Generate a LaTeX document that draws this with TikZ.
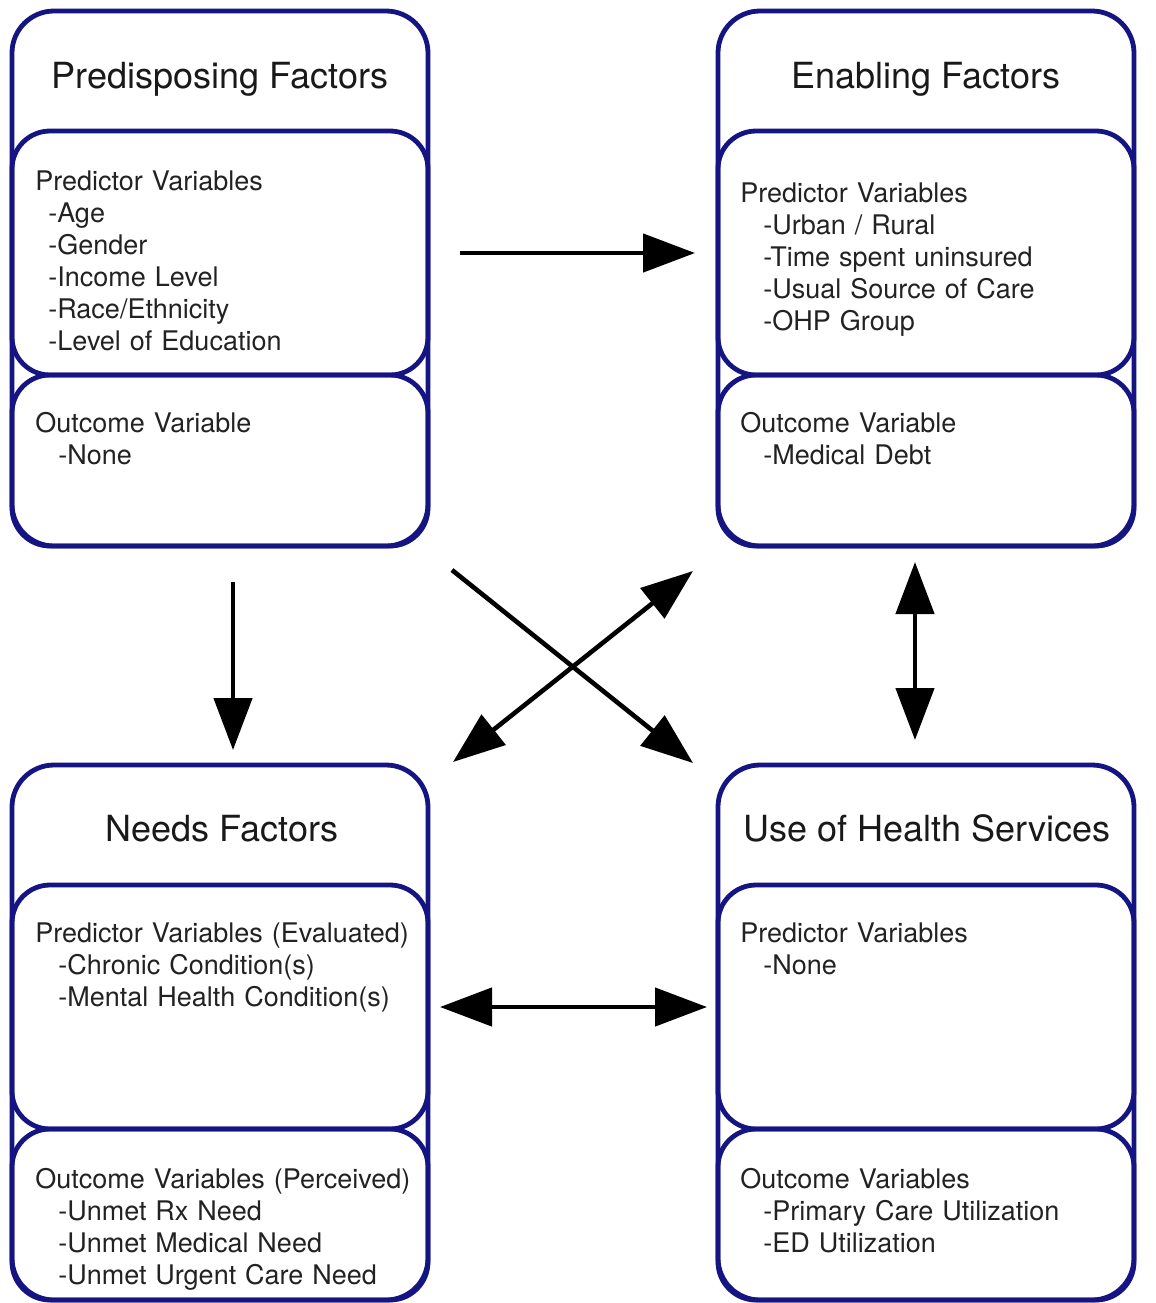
\documentclass[tikz,border=0pt]{standalone}
\usepackage{fontspec}
\setmainfont{TeX Gyre Heros}
\usepackage{tikz}
\usetikzlibrary{arrows.meta}
\definecolor{boxblue}{RGB}{20,20,130}
\definecolor{txtgray}{RGB}{34,34,34}
\newcommand\itemind{\hspace*{11.5pt}}
\tikzset{
  outerbox/.style={draw=boxblue, line width=2.4pt, rounded corners=21pt,
      minimum width=208pt, minimum height=267.5pt, inner sep=0pt, outer sep=0pt},
  innerbox/.style={draw=boxblue, line width=2.4pt, rounded corners=19pt,
      minimum width=208pt, inner sep=0pt, outer sep=0pt},
  boxtitle/.style={font=\fontsize{18}{21}\selectfont, text=black!90, anchor=base, inner sep=0pt},
  vartext/.style={font=\fontsize{13.5}{16}\selectfont, text=txtgray, anchor=base west,
      inner sep=0pt, text width=200pt, align=left},
  arr/.style={line width=2.3pt, -{Triangle[length=26pt,width=19pt]}},
  dblarr/.style={line width=2.3pt, {Triangle[length=26pt,width=19pt]}-{Triangle[length=26pt,width=19pt]}},
}

\begin{document}
\begin{tikzpicture}[x=0.5pt,y=-0.5pt]
      \useasboundingbox (0,0) rectangle (1156,1303);

      % the four frames, each with a predictor and an outcome part
      \foreach \nm/\cx/\dy in {pre/220/0, ena/926/0, need/220/754, use/926/754}{
          \node [outerbox] (\nm) at (\cx,278.5+\dy) {};
          \node [innerbox, minimum height=122pt] (\nm-pred) at (\cx,253+\dy) {};
          \node [innerbox, minimum height=85.5pt] (\nm-out) at (\cx,460.5+\dy) {};
        }

      \node [boxtitle] (pre-title) at (220,88) {Predisposing Factors};
      \node [boxtitle] (ena-title) at (926,88) {Enabling Factors};
      \node [boxtitle] (need-title) at (222,841) {Needs Factors};
      \node [boxtitle] (use-title) at (927,841) {Use of Health Services};

      \node [vartext] (pre-ptext) at (35,190) {Predictor Variables\\
        \hspace*{6.5pt}-Age\\ \hspace*{6.5pt}-Gender\\ \hspace*{6.5pt}-Income Level\\
        \hspace*{6.5pt}-Race/Ethnicity\\ \hspace*{6.5pt}-Level of Education};
      \node [vartext] (pre-otext) at (35,432) {Outcome Variable\\ \itemind-None};

      \node [vartext] (ena-ptext) at (740,202) {Predictor Variables\\
        \itemind-Urban / Rural\\ \itemind-Time spent uninsured\\
        \itemind-Usual Source of Care\\ \itemind-OHP Group};
      \node [vartext] (ena-otext) at (740,432) {Outcome Variable\\ \itemind-Medical Debt};

      \node [vartext] (need-ptext) at (35,942) {Predictor Variables (Evaluated)\\
        \itemind-Chronic Condition(s)\\ \itemind-Mental Health Condition(s)};
      \node [vartext] (need-otext) at (35,1188) {Outcome Variables (Perceived)\\
        \itemind-Unmet Rx Need\\ \itemind-Unmet Medical Need\\ \itemind-Unmet Urgent Care Need};

      \node [vartext] (use-ptext) at (740,942) {Predictor Variables\\ \itemind-None};
      \node [vartext] (use-otext) at (740,1188) {Outcome Variables\\
        \itemind-Primary Care Utilization\\ \itemind-ED Utilization};

      % connectors
      \draw [arr] ([xshift=16pt]pre-pred.east) -- ([xshift=-11.5pt]ena-pred.west);
      \draw [arr] ([xshift=6.5pt,yshift=-18pt]pre.south) -- ([xshift=6.5pt,yshift=7.5pt]need.north);
      \draw [arr] ([shift={(12pt,-12pt)}]pre.south east) -- ([shift={(-12.5pt,1pt)}]use.north west);
      \draw [dblarr] ([shift={(-12.5pt,-12.5pt)}]ena.south west) -- ([shift={(12.5pt,1.5pt)}]need.north east);
      \draw [dblarr] ([shift={(-5.5pt,-8pt)}]ena.south) -- ([shift={(-5.5pt,12.5pt)}]use.north);
      \draw [dblarr] ([xshift=6pt]need-pred.east) -- ([xshift=-5.5pt]use-pred.west);
    \end{tikzpicture}
\end{document}
